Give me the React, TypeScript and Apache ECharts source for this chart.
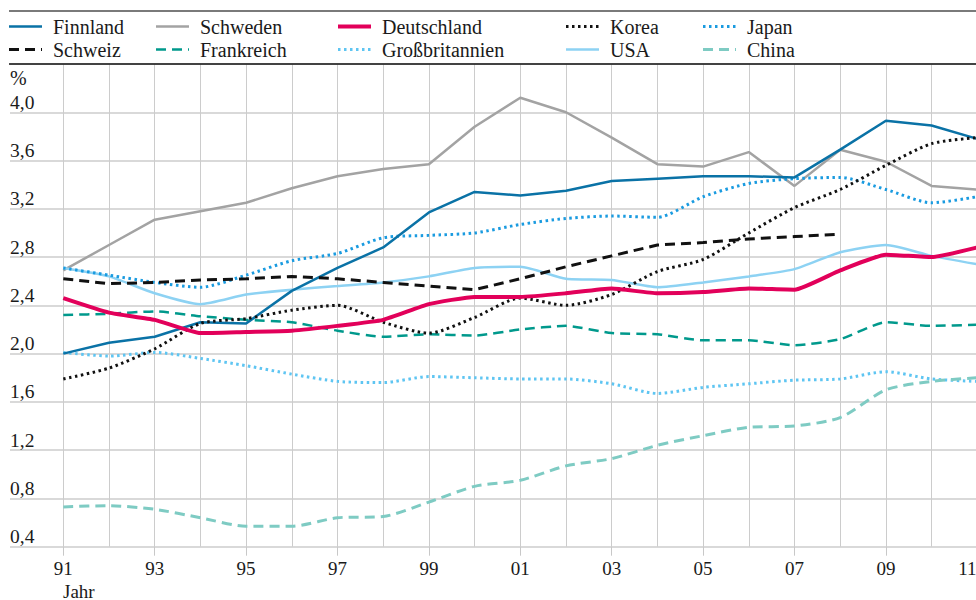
import React, { useEffect, useRef } from "react";
import * as echarts from "echarts";

const years = ["91","92","93","94","95","96","97","98","99","00","01","02","03","04","05","06","07","08","09","10","11"];

const finnland = [2.00, 2.09, 2.14, 2.26, 2.25, 2.52, 2.71, 2.88, 3.17, 3.34, 3.31, 3.35, 3.43, 3.45, 3.47, 3.47, 3.46, 3.69, 3.93, 3.89, 3.78];
const schweden = [2.69, 2.90, 3.11, 3.18, 3.25, 3.37, 3.47, 3.53, 3.57, 3.88, 4.12, 4.00, 3.79, 3.57, 3.55, 3.67, 3.39, 3.69, 3.59, 3.39, 3.36];
const deutschland = [2.46, 2.34, 2.28, 2.17, 2.18, 2.19, 2.23, 2.28, 2.41, 2.47, 2.47, 2.50, 2.54, 2.50, 2.51, 2.54, 2.53, 2.69, 2.82, 2.80, 2.88];
const korea = [1.79, 1.88, 2.04, 2.25, 2.29, 2.36, 2.40, 2.26, 2.17, 2.30, 2.46, 2.40, 2.49, 2.68, 2.78, 3.00, 3.21, 3.36, 3.56, 3.74, 3.79];
const japan = [2.71, 2.65, 2.59, 2.55, 2.65, 2.77, 2.83, 2.96, 2.98, 3.00, 3.07, 3.12, 3.14, 3.13, 3.30, 3.41, 3.45, 3.46, 3.36, 3.25, 3.30];
const schweiz = [2.62, 2.58, 2.59, 2.61, 2.62, 2.64, 2.62, 2.59, 2.56, 2.53, 2.62, 2.72, 2.81, 2.90, 2.92, 2.95, 2.97, 2.99];
const frankreich = [2.32, 2.33, 2.35, 2.31, 2.28, 2.26, 2.19, 2.14, 2.16, 2.15, 2.20, 2.23, 2.17, 2.16, 2.11, 2.11, 2.07, 2.12, 2.26, 2.23, 2.24];
const grossbritannien = [2.01, 1.98, 2.01, 1.96, 1.90, 1.83, 1.77, 1.76, 1.81, 1.80, 1.79, 1.79, 1.75, 1.67, 1.72, 1.75, 1.78, 1.79, 1.85, 1.79, 1.77];
const usa = [2.71, 2.64, 2.50, 2.41, 2.49, 2.53, 2.56, 2.59, 2.64, 2.71, 2.72, 2.62, 2.61, 2.55, 2.59, 2.64, 2.70, 2.84, 2.90, 2.81, 2.74];
const china = [0.73, 0.74, 0.71, 0.64, 0.57, 0.57, 0.64, 0.65, 0.77, 0.90, 0.95, 1.07, 1.13, 1.24, 1.32, 1.39, 1.40, 1.47, 1.70, 1.77, 1.80];

const FONT = "Liberation Serif";
const DASH = [10, 6];
const DOT = [2.5, 3.5];

type Spec = { name: string; data: number[]; color: string; width: number; dash: number[] | null; smooth: number; z: number };

const specs: Spec[] = [
  { name: "Finnland", data: finnland, color: "#0a72a6", width: 2.5, dash: null, smooth: 0, z: 5 },
  { name: "Schweden", data: schweden, color: "#a3a3a3", width: 2.5, dash: null, smooth: 0, z: 3 },
  { name: "Deutschland", data: deutschland, color: "#e2005a", width: 4, dash: null, smooth: 0.15, z: 6 },
  { name: "Korea", data: korea, color: "#111111", width: 3, dash: DOT, smooth: 0.25, z: 5 },
  { name: "Japan", data: japan, color: "#1a9be0", width: 3, dash: DOT, smooth: 0.25, z: 4 },
  { name: "Schweiz", data: schweiz, color: "#111111", width: 3, dash: DASH, smooth: 0, z: 5 },
  { name: "Frankreich", data: frankreich, color: "#00998c", width: 2.5, dash: DASH, smooth: 0.2, z: 4 },
  { name: "Großbritannien", data: grossbritannien, color: "#5ec5f2", width: 3, dash: DOT, smooth: 0.25, z: 4 },
  { name: "USA", data: usa, color: "#8dd2f3", width: 2.5, dash: null, smooth: 0.2, z: 3 },
  { name: "China", data: china, color: "#7ecbc3", width: 3, dash: DASH, smooth: 0.25, z: 4 },
];

const legendCols = [9, 156, 338, 566, 703];
const legendRows = [26.5, 49.5];
const legendOrder = [
  ["Finnland", "Schweden", "Deutschland", "Korea", "Japan"],
  ["Schweiz", "Frankreich", "Großbritannien", "USA", "China"],
];

export default function App() {
  const ref = useRef<HTMLDivElement>(null);
  useEffect(() => {
    if (!ref.current) return;
    const chart = echarts.init(ref.current, null, { renderer: "svg" });

    const txt = (text: string, x: number, y: number, size: number) => ({
      type: "text",
      x,
      y,
      style: { text, fontSize: size, fontFamily: FONT, fill: "#1a1a1a", verticalAlign: "middle", align: "left" },
      z: 100,
    });

    const graphics: any[] = [
      { type: "line", shape: { x1: 9, y1: 11, x2: 976, y2: 11 }, style: { stroke: "#7a7a7a", lineWidth: 2 }, z: 100 },
      { type: "line", shape: { x1: 9, y1: 64, x2: 976, y2: 64 }, style: { stroke: "#111111", lineWidth: 1.5 }, z: 100 },
      txt("%", 10, 78, 20),
      txt("Jahr", 63, 591, 19),
    ];
    legendOrder.forEach((row, ri) => {
      row.forEach((name, ci) => {
        const s = specs.find((p) => p.name === name)!;
        const x = legendCols[ci];
        const y = legendRows[ri];
        graphics.push({
          type: "line",
          shape: { x1: x, y1: y, x2: x + 33, y2: y },
          style: { stroke: s.color, lineWidth: s.width, lineDash: s.dash || undefined },
          z: 100,
        });
        graphics.push(txt(name, x + 44, y, 20));
      });
    });

    const option: any = {
      animation: false,
      textStyle: { fontFamily: FONT },
      graphic: graphics,
      grid: [
        { left: 10, right: 0, top: 64, bottom: 53.3, outerBoundsMode: "none", containLabel: false },
        { left: 63.3, right: -1.3, top: 64, bottom: 53.3, outerBoundsMode: "none", containLabel: false },
      ],
      xAxis: [
        { type: "value", gridIndex: 0, show: false, min: 0, max: 1 },
        {
          type: "category",
          gridIndex: 1,
          data: years,
          boundaryGap: false,
          axisLine: { show: false },
          axisTick: { show: true, interval: 1, length: 9, lineStyle: { color: "#c8c8c8", width: 1 } },
          axisLabel: {
            interval: 1,
            margin: 12,
            fontSize: 19,
            color: "#1a1a1a",
            fontFamily: FONT,
            hideOverlap: false,
            formatter: (v: string) => (v === "11" ? "{last|11}" : v),
            rich: { last: { fontSize: 19, fontFamily: FONT, color: "#1a1a1a", padding: [0, 20, 0, 0] } },
          },
          splitLine: { show: true, interval: 0, lineStyle: { color: "#cccccc", width: 1 } },
        },
      ],
      yAxis: [
        {
          type: "value",
          gridIndex: 0,
          min: 0.4,
          max: 4.4,
          interval: 0.4,
          axisLine: { show: false },
          axisTick: { show: false },
          axisLabel: {
            inside: true,
            margin: 0,
            align: "left",
            verticalAlign: "bottom",
            fontSize: 19.5,
            color: "#1a1a1a",
            fontFamily: FONT,
            formatter: (v: number) => (v > 4.3 ? "" : v.toFixed(1).replace(".", ",")),
          },
          splitLine: { show: true, lineStyle: { color: "#d9d9d9", width: 2 } },
        },
        { type: "value", gridIndex: 1, min: 0.4, max: 4.4, show: false, splitLine: { show: false } },
      ],
      series: specs.map((s) => ({
        name: s.name,
        type: "line",
        xAxisIndex: 1,
        yAxisIndex: 1,
        data: s.data,
        symbol: "none",
        smooth: s.smooth || false,
        z: s.z,
        lineStyle: { color: s.color, width: s.width, type: s.dash || "solid", cap: "butt" },
        itemStyle: { color: s.color },
      })),
    };
    chart.setOption(option);
    return () => chart.dispose();
  }, []);
  return <div ref={ref} style={{ position: "fixed", left: 0, top: 0, width: 976, height: 600, background: "#fff" }} />;
}
